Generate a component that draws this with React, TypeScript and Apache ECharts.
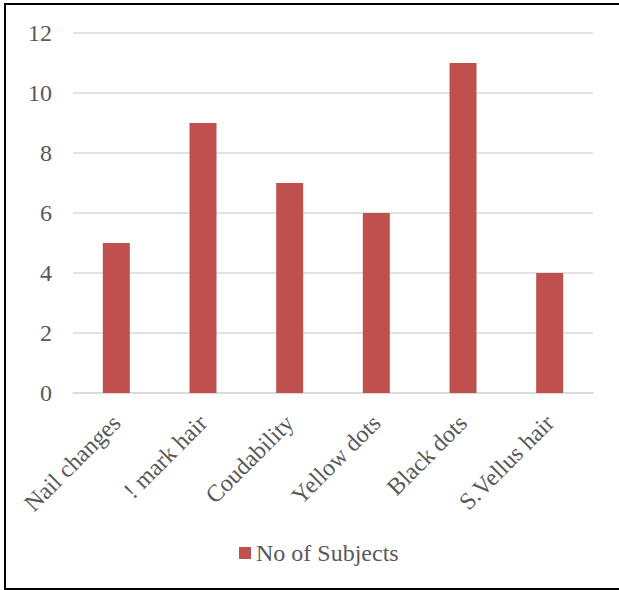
import React, { useEffect, useRef } from "react";
import * as echarts from "echarts";

const categories = ["Nail changes", "! mark hair", "Coudability", "Yellow dots", "Black dots", "S.Vellus hair"];
const subjects = [5, 9, 7, 6, 11, 4];
const seriesName = "No of Subjects";

const FONT = "'Liberation Serif', 'Times New Roman', serif";
const TEXT = "#595959";

export default function App() {
  const ref = useRef<HTMLDivElement>(null);
  useEffect(() => {
    document.body.style.margin = "0";
    const chart = echarts.init(ref.current!, null, { renderer: "svg" });
    chart.setOption({
      animation: false,
      textStyle: { fontFamily: FONT },
      grid: { left: 73, right: 26, top: 33, bottom: 197, containLabel: false },
      legend: {
        data: [seriesName],
        left: 234,
        top: 536,
        icon: "rect",
        itemWidth: 12,
        itemHeight: 12,
        itemGap: 10,
        textStyle: { fontFamily: FONT, fontSize: 24, color: TEXT },
      },
      xAxis: {
        type: "category",
        data: categories,
        axisLine: { show: true, lineStyle: { color: "#D9D9D9", width: 1.5 } },
        axisTick: { show: false },
        axisLabel: { rotate: 45, fontFamily: FONT, fontSize: 24, color: TEXT, margin: 26, interval: 0 },
      },
      yAxis: {
        type: "value",
        min: 0,
        max: 12,
        interval: 2,
        axisLine: { show: false },
        axisTick: { show: false },
        splitLine: { lineStyle: { color: "#D9D9D9", width: 1.5 } },
        axisLabel: { fontFamily: FONT, fontSize: 24, color: TEXT, margin: 21 },
      },
      series: [
        {
          name: seriesName,
          type: "bar",
          data: subjects,
          barWidth: 27,
          itemStyle: { color: "#C0504D" },
        },
      ],
    });
    return () => chart.dispose();
  }, []);
  return (
    <div style={{ position: "relative", width: 619, height: 590 }}>
      <div ref={ref} style={{ position: "absolute", left: 0, top: 0, width: 619, height: 590 }} />
      <div
        style={{
          position: "absolute",
          left: 4,
          top: 3,
          width: 640,
          height: 583,
          borderLeft: "2px solid #000",
          borderTop: "2px solid #000",
          borderBottom: "2px solid #000",
          pointerEvents: "none",
        }}
      />
    </div>
  );
}
